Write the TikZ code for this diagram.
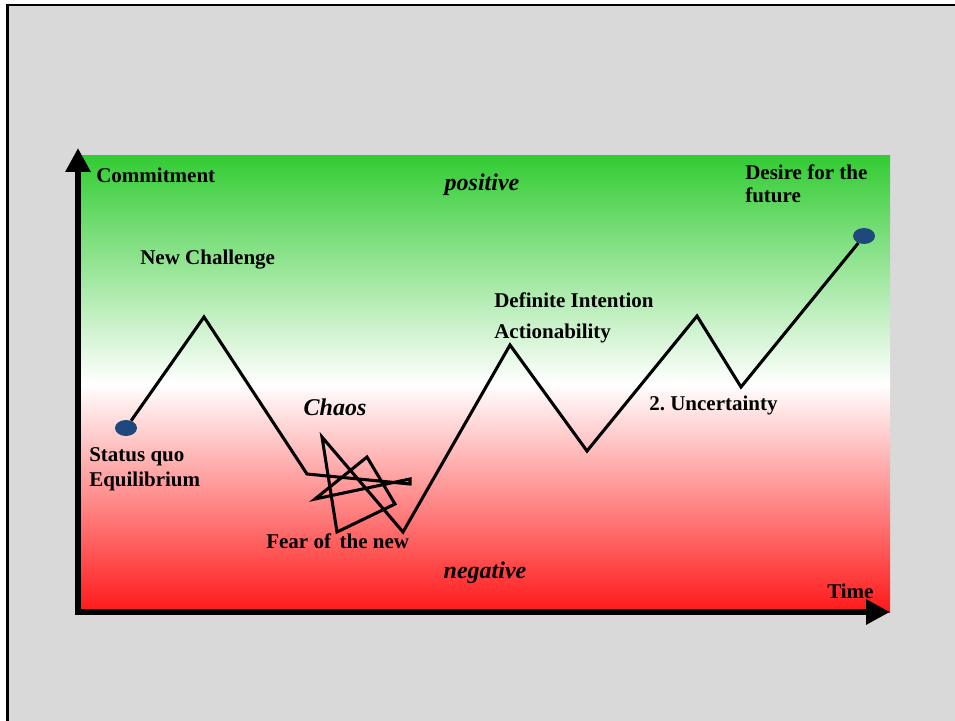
\documentclass[tikz,border=0pt]{standalone}
\usepackage{fontspec}
\setmainfont{Liberation Serif}
\usetikzlibrary{arrows.meta,shapes.geometric}
\definecolor{bggray}{RGB}{217,217,217}
\definecolor{topgreen}{RGB}{51,204,51}
\definecolor{botred}{RGB}{255,25,25}
\definecolor{dotblue}{RGB}{31,73,125}
\begin{document}
\frenchspacing
\begin{tikzpicture}[x=0.75pt,y=-0.75pt,
  lbl/.style={font=\fontsize{15.75}{19}\selectfont\bfseries,inner sep=0pt},
  lblL/.style={lbl,anchor=west},
  ital/.style={font=\fontsize{18}{21}\selectfont\bfseries\itshape,inner sep=0pt},
  curve/.style={line width=2.3pt,line join=miter},
  axis/.style={line width=4.5pt,-{Triangle[length=18pt,width=18pt]}},
  dotstyle/.style={ellipse,fill=dotblue,minimum width=16.5pt,minimum height=12pt,inner sep=0pt}]
\useasboundingbox (0,0) rectangle (955,720);
\fill[white] (0,0) rectangle (955,720);
\fill[bggray,draw=black,line width=2pt] (7.5,5) rectangle (975,740);
% gradient area
\shade[top color=topgreen,bottom color=botred,middle color=white] (80,156) rectangle (890,612);
% axes
\coordinate (ytip) at (78,148);
\coordinate (xtip) at (890,612);
\draw[axis] (78,614) -- (ytip);
\draw[axis] (75,612) -- (xtip);
% curve points
\node[dotstyle] (sq) at (126,428) {};
\node[dotstyle] (fut) at (864,236) {};
\coordinate (p1) at (204,317);
\coordinate (p2) at (307,474);
\coordinate (p3) at (410,484);
\coordinate (p4) at (410,479);
\coordinate (p5) at (315,499);
\coordinate (p6) at (367,457);
\coordinate (p7) at (395,504);
\coordinate (p8) at (337,532);
\coordinate (p9) at (322,437);
\coordinate (p10) at (403,532);
\coordinate (p11) at (510,345);
\coordinate (p12) at (587,451);
\coordinate (p13) at (697,316);
\coordinate (p14) at (741,387);
\draw[curve] (sq) -- (p1) -- (p2) -- (p3) -- (p4) -- (p5) -- (p6) -- (p7) -- (p8) -- (p9) -- (p10) -- (p11) -- (p12) -- (p13) -- (p14) -- (fut);
% labels
\node[lblL] (commit) at (96,175) {Commitment};
\node[ital] (pos) at (482,185) {positive};
\node[lblL] (newch) at (140,260) {New Challenge};
\node[lblL] (defint) at (494,300) {Definite Intention};
\node[lblL] (action) at (494,333) {Actionability};
\node[ital] (chaos) at (335,407) {Chaos};
\node[lblL] (sq1) at (89,457) {Status quo};
\node[lblL] (sq2) at (89,481) {Equilibrium};
\node[lblL] (fear) at (266,541) {Fear of\, the new};
\node[ital] (neg) at (485,573) {negative};
\node[lblL] (unc) at (649,405) {2. Uncertainty};
\node[lblL] (des1) at (745,172) {Desire for the};
\node[lblL] (des2) at (745,195) {future};
\node[lblL] (time) at (827,591) {Time};
\end{tikzpicture}
\end{document}
